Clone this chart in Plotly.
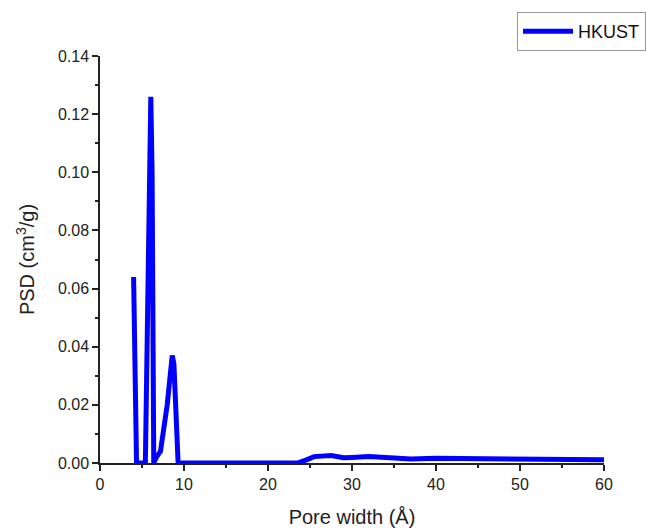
import plotly.graph_objects as go

pore_width = [4.0, 4.35, 5.4, 5.7, 5.9, 6.05, 6.2, 6.4, 6.7, 7.2, 8.0, 8.6, 8.8, 9.3, 9.6,
              15, 20, 23.5, 24.5, 25.5, 27.5, 29, 30, 32, 34, 37, 40, 45, 50, 55, 60]
psd = [0.064, 0.0, 0.0, 0.06, 0.115, 0.126, 0.1, 0.0, 0.002, 0.004, 0.02, 0.037, 0.034, 0.0, 0.0,
       0.0, 0.0, 0.0, 0.001, 0.0022, 0.0026, 0.0018, 0.0019, 0.0022, 0.0019, 0.0014, 0.0016, 0.0015,
       0.0012, 0.0011, 0.0011]

fig = go.Figure()
fig.add_trace(go.Scatter(x=pore_width, y=psd, mode="lines", name="HKUST",
                         line=dict(color="#0000FF", width=5)))

fam = "Liberation Sans, Arial, sans-serif"
W, H = 646, 529
ml, mr, mt, mb = 100, 0, 12, 66
pw, ph = W - ml - mr, H - mt - mb
fig.update_layout(
    width=W, height=H,
    margin=dict(l=ml, r=mr, t=mt, b=mb),
    paper_bgcolor="white", plot_bgcolor="white",
    font=dict(family=fam, size=16, color="#222"),
    showlegend=True,
    legend=dict(x=1.0, xanchor="right", y=1.0, yanchor="top",
                bordercolor="#999", borderwidth=1, bgcolor="white",
                font=dict(family=fam, size=18, color="#111"),
                itemwidth=50, tracegroupgap=0),
    xaxis=dict(domain=[0, 504 / pw], range=[0, 60], tickmode="linear", tick0=0, dtick=10,
               automargin=False,
               showline=True, linecolor="#222", linewidth=1.5, mirror=False,
               ticks="outside", ticklen=6, tickwidth=1.5, tickcolor="#222",
               minor=dict(dtick=5, ticks="outside", ticklen=3, tickwidth=1.5, tickcolor="#222"),
               showgrid=False, zeroline=False,
               title=dict(text="Pore width (Å)", font=dict(size=20), standoff=18)),
    yaxis=dict(domain=[0, 407 / ph], range=[0, 0.14], tickmode="linear", tick0=0, dtick=0.02,
               tickformat=".2f", automargin=False,
               showline=True, linecolor="#222", linewidth=1.5, mirror=False,
               ticks="outside", ticklen=6, tickwidth=1.5, tickcolor="#222",
               minor=dict(dtick=0.01, ticks="outside", ticklen=3, tickwidth=1.5, tickcolor="#222"),
               showgrid=False, zeroline=False,
               title=dict(text="PSD (cm<sup>3</sup>/g)", font=dict(size=20), standoff=18)),
)
fig.write_html("out.html")
